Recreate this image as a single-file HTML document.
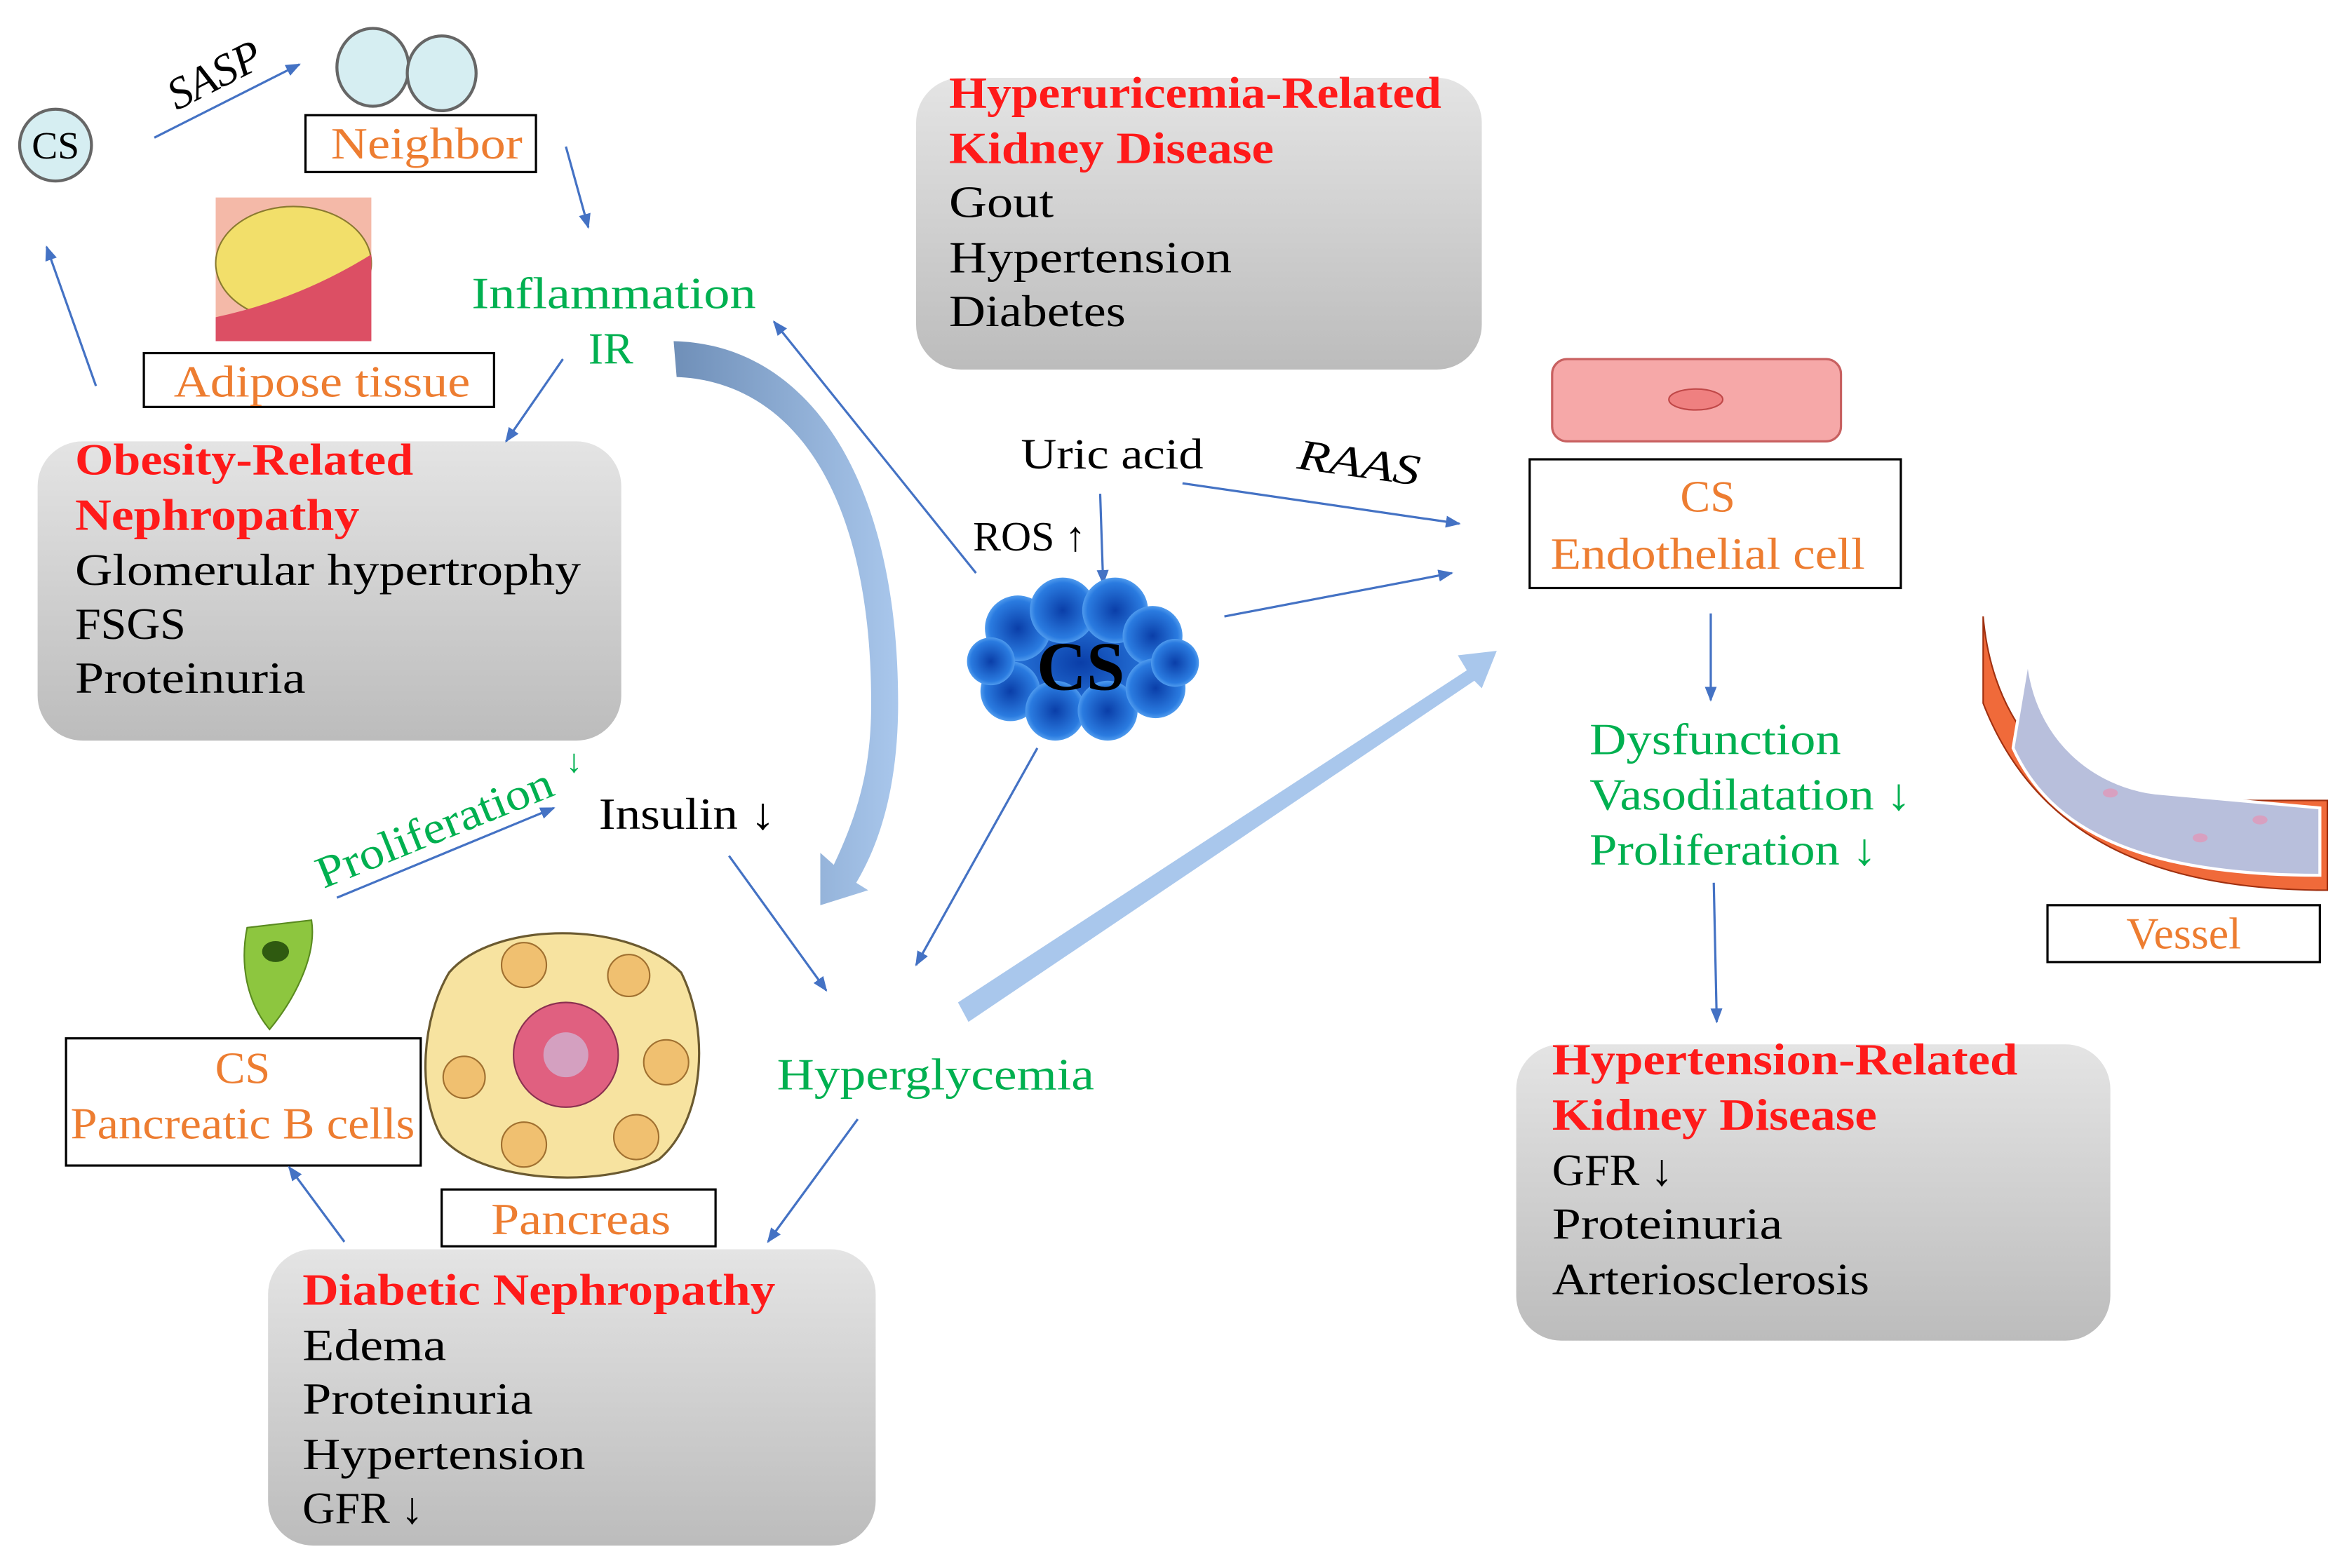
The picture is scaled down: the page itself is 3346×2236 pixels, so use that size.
<!DOCTYPE html>
<html><head><meta charset="utf-8"><style>
html,body{margin:0;padding:0;background:#fff;}
svg{display:block}
text{font-family:"Liberation Serif",serif;}
</style></head><body>
<svg width="3346" height="2236" viewBox="0 0 1568 1048" xmlns="http://www.w3.org/2000/svg">
<defs>
<marker id="a" markerWidth="10" markerHeight="8" refX="9" refY="4" orient="auto" markerUnits="userSpaceOnUse"><path d="M0,0 L10,4 L0,8 z" fill="#4472c4"/></marker>
<linearGradient id="gb" x1="0" y1="0" x2="1" y2="0"><stop offset="0" stop-color="#6f8fb8"/><stop offset="1" stop-color="#a9c7ec"/></linearGradient>
<linearGradient id="gg" x1="0" y1="0" x2="0" y2="1"><stop offset="0" stop-color="#e4e4e4"/><stop offset="1" stop-color="#bcbcbc"/></linearGradient>
<radialGradient id="cl" cx="0.5" cy="0.5" r="0.6"><stop offset="0" stop-color="#0a3ea8"/><stop offset="0.7" stop-color="#2a7be0"/><stop offset="1" stop-color="#7fc3ff"/></radialGradient>
</defs>

<rect x="25" y="295" width="390" height="200" rx="30" fill="url(#gg)"/>
<rect x="612" y="52" width="378" height="195" rx="30" fill="url(#gg)"/>
<rect x="1013" y="698" width="397" height="198" rx="30" fill="url(#gg)"/>
<rect x="179" y="835" width="406" height="198" rx="30" fill="url(#gg)"/>

<g font-size="30" lengthAdjust="spacingAndGlyphs">
<text x="50" y="317" fill="#ff1a1a" font-weight="bold" textLength="226" lengthAdjust="spacingAndGlyphs">Obesity-Related</text>
<text x="50" y="354" fill="#ff1a1a" font-weight="bold" textLength="190" lengthAdjust="spacingAndGlyphs">Nephropathy</text>
<text x="50" y="391" textLength="338" lengthAdjust="spacingAndGlyphs">Glomerular hypertrophy</text>
<text x="50" y="427" textLength="74" lengthAdjust="spacingAndGlyphs">FSGS</text>
<text x="50" y="463" textLength="154" lengthAdjust="spacingAndGlyphs">Proteinuria</text>

<text x="634" y="72" fill="#ff1a1a" font-weight="bold" textLength="329" lengthAdjust="spacingAndGlyphs">Hyperuricemia-Related</text>
<text x="634" y="109" fill="#ff1a1a" font-weight="bold" textLength="217" lengthAdjust="spacingAndGlyphs">Kidney Disease</text>
<text x="634" y="145" textLength="70" lengthAdjust="spacingAndGlyphs">Gout</text>
<text x="634" y="182" textLength="189" lengthAdjust="spacingAndGlyphs">Hypertension</text>
<text x="634" y="218" textLength="118" lengthAdjust="spacingAndGlyphs">Diabetes</text>

<text x="1037" y="718" fill="#ff1a1a" font-weight="bold" textLength="311" lengthAdjust="spacingAndGlyphs">Hypertension-Related</text>
<text x="1037" y="755" fill="#ff1a1a" font-weight="bold" textLength="217" lengthAdjust="spacingAndGlyphs">Kidney Disease</text>
<text x="1037" y="792">GFR ↓</text>
<text x="1037" y="828" textLength="154" lengthAdjust="spacingAndGlyphs">Proteinuria</text>
<text x="1037" y="865" textLength="212" lengthAdjust="spacingAndGlyphs">Arteriosclerosis</text>

<text x="202" y="872" fill="#ff1a1a" font-weight="bold" textLength="316" lengthAdjust="spacingAndGlyphs">Diabetic Nephropathy</text>
<text x="202" y="909" textLength="96" lengthAdjust="spacingAndGlyphs">Edema</text>
<text x="202" y="945" textLength="154" lengthAdjust="spacingAndGlyphs">Proteinuria</text>
<text x="202" y="982" textLength="189" lengthAdjust="spacingAndGlyphs">Hypertension</text>
<text x="202" y="1018">GFR ↓</text>
</g>

<circle cx="37" cy="97" r="24" fill="#d6eef2" stroke="#666" stroke-width="2"/>
<text x="37" y="106" font-size="26" text-anchor="middle">CS</text>
<text x="0" y="0" font-size="30" font-style="italic" transform="translate(118,74) rotate(-27)">SASP</text>
<line x1="103" y1="92" x2="200" y2="43" stroke="#4472c4" stroke-width="1.5" marker-end="url(#a)"/>
<ellipse cx="249" cy="45" rx="24" ry="26" fill="#d6eef2" stroke="#666" stroke-width="2"/>
<ellipse cx="295" cy="49" rx="23" ry="25" fill="#d6eef2" stroke="#666" stroke-width="2"/>
<rect x="204" y="77" width="154" height="38" fill="#fff" stroke="#000" stroke-width="1.5"/>
<text x="285" y="106" font-size="30" fill="#ed7d31" text-anchor="middle" textLength="128" lengthAdjust="spacingAndGlyphs">Neighbor</text>
<line x1="378" y1="98" x2="393" y2="152" stroke="#4472c4" stroke-width="1.5" marker-end="url(#a)"/>
<rect x="144" y="132" width="104" height="96" fill="#f4b9a8"/>
<ellipse cx="196" cy="176" rx="52" ry="38" fill="#f2df6a" stroke="#8a7a30" stroke-width="1"/>
<path d="M144,212 Q200,200 248,170 L248,228 L144,228z" fill="#dc4f64"/>
<rect x="96" y="236" width="234" height="36" fill="#fff" stroke="#000" stroke-width="1.5"/>
<text x="215" y="265" font-size="30" fill="#ed7d31" text-anchor="middle" textLength="198" lengthAdjust="spacingAndGlyphs">Adipose tissue</text>
<line x1="64" y1="258" x2="31" y2="165" stroke="#4472c4" stroke-width="1.5" marker-end="url(#a)"/>
<text x="410" y="206" font-size="30" fill="#00b050" text-anchor="middle" textLength="190" lengthAdjust="spacingAndGlyphs">Inflammation</text>
<text x="408" y="243" font-size="30" fill="#00b050" text-anchor="middle">IR</text>
<line x1="376" y1="240" x2="338" y2="295" stroke="#4472c4" stroke-width="1.5" marker-end="url(#a)"/>

<path d="M450,228 C540,230 600,320 600,470 C600,520 590,560 572,590 L580,595 L548,605 L548,570 L557,578 C575,540 582,510 582,470 C582,330 530,255 452,252 Z" fill="url(#gb)"/>

<text x="743" y="313" font-size="29" text-anchor="middle" textLength="122" lengthAdjust="spacingAndGlyphs">Uric acid</text>
<text x="0" y="0" font-size="29" font-style="italic" transform="translate(866,313) rotate(8)" textLength="82" lengthAdjust="spacingAndGlyphs">RAAS</text>
<text x="650" y="368" font-size="28">ROS ↑</text>
<line x1="735" y1="330" x2="737" y2="390" stroke="#4472c4" stroke-width="1.5" marker-end="url(#a)"/>
<line x1="790" y1="323" x2="975" y2="350" stroke="#4472c4" stroke-width="1.5" marker-end="url(#a)"/>
<line x1="818" y1="412" x2="970" y2="383" stroke="#4472c4" stroke-width="1.5" marker-end="url(#a)"/>
<line x1="652" y1="383" x2="517" y2="215" stroke="#4472c4" stroke-width="1.5" marker-end="url(#a)"/>
<line x1="693" y1="500" x2="612" y2="645" stroke="#4472c4" stroke-width="1.5" marker-end="url(#a)"/>
<g fill="url(#cl)">
<ellipse cx="722" cy="443" rx="62" ry="40"/>
<circle cx="680" cy="420" r="22"/><circle cx="710" cy="408" r="22"/><circle cx="745" cy="408" r="22"/><circle cx="770" cy="425" r="20"/>
<circle cx="675" cy="462" r="20"/><circle cx="705" cy="475" r="20"/><circle cx="740" cy="475" r="20"/><circle cx="772" cy="460" r="20"/>
<circle cx="662" cy="442" r="16"/><circle cx="785" cy="443" r="16"/>
</g>
<text x="722" y="461" font-size="46" font-weight="bold" text-anchor="middle">CS</text>

<path d="M640,670 L980,448 L974,438 L1000,435 L990,460 L985,455 L647,683 Z" fill="#a9c7ec"/>

<rect x="1037" y="240" width="193" height="55" rx="10" fill="#f6a8a8" stroke="#c86060" stroke-width="1.5"/>
<ellipse cx="1133" cy="267" rx="18" ry="7" fill="#ef8080" stroke="#c04848"/>
<rect x="1022" y="307" width="248" height="86" fill="#fff" stroke="#000" stroke-width="1.5"/>
<text x="1141" y="342" font-size="30" fill="#ed7d31" text-anchor="middle">CS</text>
<text x="1141" y="380" font-size="30" fill="#ed7d31" text-anchor="middle" textLength="210" lengthAdjust="spacingAndGlyphs">Endothelial cell</text>
<line x1="1143" y1="410" x2="1143" y2="468" stroke="#4472c4" stroke-width="1.5" marker-end="url(#a)"/>
<g font-size="30" fill="#00b050">
<text x="1062" y="504" textLength="168" lengthAdjust="spacingAndGlyphs">Dysfunction</text>
<text x="1062" y="541" textLength="215" lengthAdjust="spacingAndGlyphs">Vasodilatation ↓</text>
<text x="1062" y="578" textLength="192" lengthAdjust="spacingAndGlyphs">Proliferation ↓</text>
</g>
<line x1="1145" y1="590" x2="1147" y2="683" stroke="#4472c4" stroke-width="1.5" marker-end="url(#a)"/>
<path d="M1325,412 C1330,470 1360,520 1420,535 L1555,535 L1555,595 C1440,595 1360,560 1325,470 Z" fill="#f06a3a" stroke="#a03010"/>
<path d="M1355,440 C1360,495 1400,525 1440,530 L1550,540 L1550,585 C1430,585 1370,555 1345,500 Z" fill="#b8bfdc" stroke="#fff" stroke-width="2"/>
<g fill="#d8a0c0"><ellipse cx="1410" cy="530" rx="5" ry="3"/><ellipse cx="1470" cy="560" rx="5" ry="3"/><ellipse cx="1510" cy="548" rx="5" ry="3"/></g>
<rect x="1368" y="605" width="182" height="38" fill="#fff" stroke="#000" stroke-width="1.5"/>
<text x="1459" y="634" font-size="30" fill="#ed7d31" text-anchor="middle">Vessel</text>

<text x="0" y="0" font-size="30" fill="#00b050" transform="translate(216,594) rotate(-22)" textLength="168" lengthAdjust="spacingAndGlyphs">Proliferation</text>
<text x="378" y="516" font-size="22" fill="#00b050">↓</text>
<line x1="225" y1="600" x2="370" y2="540" stroke="#4472c4" stroke-width="1.5" marker-end="url(#a)"/>
<text x="400" y="554" font-size="30" textLength="118" lengthAdjust="spacingAndGlyphs">Insulin ↓</text>
<line x1="487" y1="572" x2="552" y2="662" stroke="#4472c4" stroke-width="1.5" marker-end="url(#a)"/>
<text x="625" y="728" font-size="30" fill="#00b050" text-anchor="middle" textLength="212" lengthAdjust="spacingAndGlyphs">Hyperglycemia</text>
<line x1="573" y1="748" x2="513" y2="830" stroke="#4472c4" stroke-width="1.5" marker-end="url(#a)"/>
<path d="M165,620 L208,615 C212,640 195,670 180,688 C165,670 160,645 165,620Z" fill="#8dc63f" stroke="#5a8a20"/>
<ellipse cx="184" cy="636" rx="9" ry="7" fill="#2f5a10"/>
<rect x="44" y="694" width="237" height="85" fill="#fff" stroke="#000" stroke-width="1.5"/>
<text x="162" y="724" font-size="30" fill="#ed7d31" text-anchor="middle">CS</text>
<text x="162" y="761" font-size="30" fill="#ed7d31" text-anchor="middle" textLength="230" lengthAdjust="spacingAndGlyphs">Pancreatic B cells</text>
<path d="M300,650 C330,615 420,615 455,650 C475,690 470,750 440,775 C400,795 320,790 295,760 C278,730 282,680 300,650Z" fill="#f7e3a0" stroke="#6b5a30" stroke-width="1.5"/>
<circle cx="378" cy="705" r="35" fill="#e06080" stroke="#8a3050"/>
<circle cx="378" cy="705" r="15" fill="#d4a0c0"/>
<g fill="#f0c070" stroke="#a07030"><circle cx="350" cy="645" r="15"/><circle cx="420" cy="652" r="14"/><circle cx="445" cy="710" r="15"/><circle cx="425" cy="760" r="15"/><circle cx="350" cy="765" r="15"/><circle cx="310" cy="720" r="14"/></g>
<rect x="295" y="795" width="183" height="38" fill="#fff" stroke="#000" stroke-width="1.5"/>
<text x="388" y="825" font-size="30" fill="#ed7d31" text-anchor="middle" textLength="120" lengthAdjust="spacingAndGlyphs">Pancreas</text>
<line x1="230" y1="830" x2="193" y2="780" stroke="#4472c4" stroke-width="1.5" marker-end="url(#a)"/>
</svg>
</body></html>
